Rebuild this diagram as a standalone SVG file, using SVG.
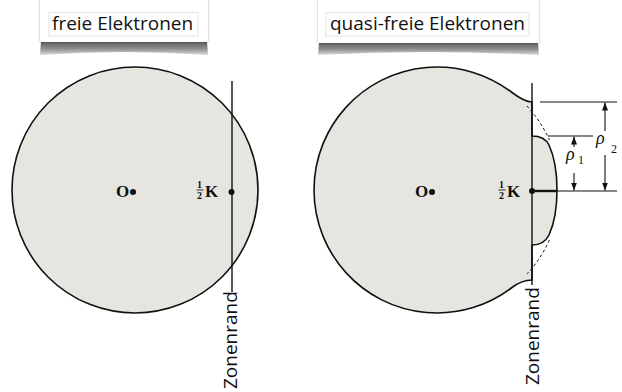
<svg xmlns="http://www.w3.org/2000/svg" width="622" height="392" viewBox="0 0 622 392">
  <defs>
    <filter id="side" x="-10%" y="-10%" width="120%" height="120%">
      <feDropShadow dx="0" dy="0" stdDeviation="1.2" flood-color="#000" flood-opacity="0.35"/>
    </filter>
    <linearGradient id="sg" x1="0" y1="0" x2="0" y2="1">
      <stop offset="0" stop-color="#5a5a5a"/>
      <stop offset="0.55" stop-color="#8e8e8e"/>
      <stop offset="1" stop-color="#dcdcdc"/>
    </linearGradient>
    <marker id="ah" viewBox="0 0 8 8" refX="8" refY="4" markerWidth="8" markerHeight="8" markerUnits="userSpaceOnUse" orient="auto">
      <path d="M0,1 L8,4 L0,7 Z" fill="#111"/>
    </marker>
    <style>
      .title { font-family: "Open Sans", "Liberation Sans", sans-serif; font-size: 19px; fill: #111; }
      .zone { font-family: "Open Sans", "Liberation Sans", sans-serif; font-size: 19px; fill: #111; }
      .lab { font-family: "Liberation Serif", "Times New Roman", serif; font-weight: bold; font-size: 17px; fill: #111; }
      .frac { font-family: "Liberation Serif", "Times New Roman", serif; font-weight: bold; font-size: 10px; fill: #111; }
      .rho { font-family: "Liberation Serif", "Times New Roman", serif; font-style: italic; font-size: 18px; fill: #111; }
      .sub { font-family: "Liberation Serif", "Times New Roman", serif; font-size: 12px; fill: #111; }
      .body { fill: #e7e5df; stroke: #111; stroke-width: 1.6; }
      .ln { stroke: #111; stroke-width: 1.4; fill: none; }
      .dim { stroke: #111; stroke-width: 1.1; fill: none; }
      .dash { stroke: #111; stroke-width: 1; fill: none; stroke-dasharray: 3 2.5; }
      .box { fill: #fff; }
      .inner { fill: #fff; stroke: #e2e2e2; stroke-width: 1; }
    </style>
  </defs>

  <rect width="622" height="392" fill="#fff"/>

  <!-- Title: freie Elektronen -->
  <g id="title-free">
    <path fill="url(#sg)" d="M41,41 L207,41 L208,55 Q124,49 40,55 Z"/>
    <rect class="box" filter="url(#side)" x="40" y="-6" width="168" height="48"/>
    <rect class="inner" x="49" y="12.5" width="149" height="23.5"/>
    <text class="title" x="52" y="30">freie Elektronen</text>
  </g>

  <!-- Title: quasi-freie Elektronen -->
  <g id="title-quasi">
    <path fill="url(#sg)" d="M319,42 L538,42 L539,55 Q428,49 318,55 Z"/>
    <rect class="box" filter="url(#side)" x="318" y="-6" width="221" height="49"/>
    <rect class="inner" x="326" y="12.5" width="203" height="23.5"/>
    <text class="title" x="330" y="30">quasi-freie Elektronen</text>
  </g>

  <!-- Left Fermi sphere -->
  <g id="sphere-free">
    <circle class="body" cx="135" cy="190" r="123"/>
    <circle cx="133" cy="192" r="3" fill="#111"/>
    <text class="lab" x="116" y="197">O</text>
    <text class="frac" x="197" y="188">1</text>
    <line x1="196.5" y1="190" x2="203.5" y2="190" stroke="#111" stroke-width="0.9"/>
    <text class="frac" x="197" y="199">2</text>
    <text class="lab" x="205" y="197">K</text>
    <circle cx="231.5" cy="192" r="3" fill="#111"/>
  </g>

  <!-- Right Fermi sphere (quasi-free) -->
  <g id="sphere-quasi">
    <path class="body" d="M532,102 C526,102 518,97 512,92.5 A123,123 0 1 0 512,287.5 C518,283 526,280 532,280 L532,245 C540,245 546,241 549,235 C554,224 557,208 557,190 C557,172 554,156 549,145 C546,139 540,136 532,136 Z"/>
    <path class="dash" d="M526.9,106 A123,123 0 0 1 549.4,140"/>
    <path class="dash" d="M549.4,240 A123,123 0 0 1 526.9,274"/>
    <circle cx="432" cy="192" r="3" fill="#111"/>
    <text class="lab" x="415" y="197">O</text>
    <text class="frac" x="499" y="188">1</text>
    <line x1="498.5" y1="190" x2="505.5" y2="190" stroke="#111" stroke-width="0.9"/>
    <text class="frac" x="499" y="199">2</text>
    <text class="lab" x="507" y="197">K</text>
  </g>

  <!-- Zone boundaries and dimensions -->
  <g id="connectors">
    <line class="ln" x1="232" y1="81" x2="232" y2="292"/>
    <line class="ln" x1="532" y1="83" x2="532" y2="285"/>
    <line x1="532" y1="191" x2="557" y2="191" stroke="#111" stroke-width="2.4"/>
    <circle cx="532" cy="191" r="3" fill="#111"/>
    <line class="dim" x1="540" y1="102" x2="617" y2="102"/>
    <line class="dim" x1="548" y1="136" x2="593" y2="136"/>
    <line class="dim" x1="557" y1="191" x2="617" y2="191"/>
    <line class="dim" x1="605" y1="131" x2="605" y2="102.5" marker-end="url(#ah)"/>
    <line class="dim" x1="605" y1="155" x2="605" y2="190.5" marker-end="url(#ah)"/>
    <line class="dim" x1="574" y1="147" x2="574" y2="136.5" marker-end="url(#ah)"/>
    <line class="dim" x1="574" y1="173" x2="574" y2="190.5" marker-end="url(#ah)"/>
  </g>

  <g id="labels">
    <text class="rho" x="596" y="144">ρ</text>
    <text class="sub" x="611" y="153">2</text>
    <text class="rho" x="566" y="160">ρ</text>
    <text class="sub" x="578" y="164">1</text>
    <text class="zone" transform="translate(237,389) rotate(-90)">Zonenrand</text>
    <text class="zone" transform="translate(539,385) rotate(-90)">Zonenrand</text>
  </g>
</svg>
